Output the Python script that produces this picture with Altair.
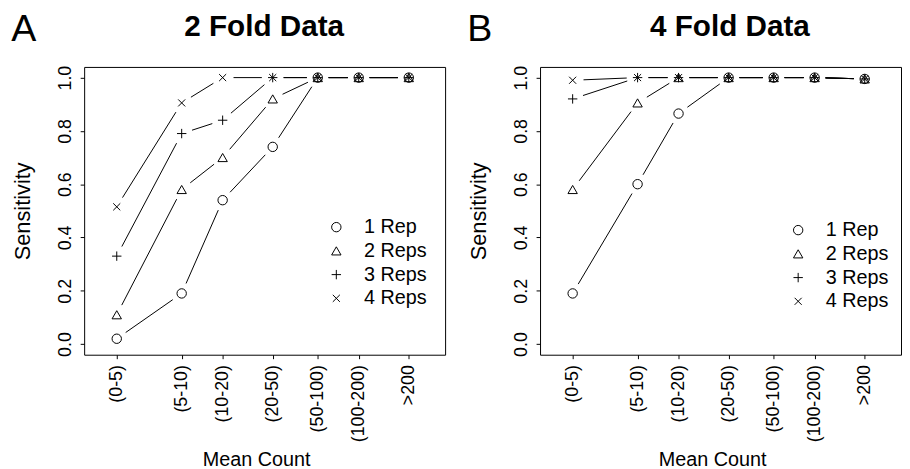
import math
import altair as alt
import pandas as pd

# ---------------- data ----------------
bins = ["(0-5)", "(5-10)", "(10-20)", "(20-50)", "(50-100)", "(100-200)", ">200"]
mean_count = [2.5, 7.5, 15, 35, 75, 150, 350]
reps = ["1 Rep", "2 Reps", "3 Reps", "4 Reps"]

fold2_rep1 = [0.02, 0.19, 0.54, 0.74, 1.0, 1.0, 1.0]
fold2_rep2 = [0.11, 0.58, 0.70, 0.92, 1.0, 1.0, 1.0]
fold2_rep3 = [0.33, 0.79, 0.84, 1.0, 1.0, 1.0, 1.0]
fold2_rep4 = [0.515, 0.905, 1.0, 1.0, 1.0, 1.0, 1.0]

fold4_rep1 = [0.19, 0.60, 0.865, 1.0, 1.0, 1.0, 0.995]
fold4_rep2 = [0.58, 0.905, 1.0, 1.0, 1.0, 1.0, 0.995]
fold4_rep3 = [0.92, 1.0, 1.0, 1.0, 1.0, 1.0, 0.995]
fold4_rep4 = [0.99, 1.0, 1.0, 1.0, 1.0, 1.0, 0.995]

panel_letters = ["A", "B"]
panel_titles = ["2 Fold Data", "4 Fold Data"]
y_ticks = [0.0, 0.2, 0.4, 0.6, 0.8, 1.0]

FONT = "Liberation Sans"
W, H = 365, 291
X_DOM = [1.44, 647]
Y_DOM = [-0.04, 1.04]
GAP = 11  # R type="b" style gap around each point (px)

shape_range = [
    "circle",
    "triangle-up",
    "M-1,0L1,0M0,-1L0,1",
    "M-0.75,-0.75L0.75,0.75M-0.75,0.75L0.75,-0.75",
]


def long_df(series):
    rows = []
    for rep, vals in zip(reps, series):
        for b, c, v in zip(bins, mean_count, vals):
            rows.append({"bin": b, "count": c, "sens": v, "rep": rep})
    return pd.DataFrame(rows)


# line segments between consecutive points, shortened at both ends so that
# they leave a gap around each symbol (as R's type="b" does)
lx0, lx1 = math.log10(X_DOM[0]), math.log10(X_DOM[1])


def to_px(c, v):
    return (W * (math.log10(c) - lx0) / (lx1 - lx0),
            H * (Y_DOM[1] - v) / (Y_DOM[1] - Y_DOM[0]))


def from_px(px, py):
    return (10 ** (lx0 + px / W * (lx1 - lx0)),
            Y_DOM[1] - py / H * (Y_DOM[1] - Y_DOM[0]))


def seg_df(series):
    rows = []
    for rep, vals in zip(reps, series):
        for i in range(len(vals) - 1):
            ax, ay = to_px(mean_count[i], vals[i])
            bx, by = to_px(mean_count[i + 1], vals[i + 1])
            dx, dy = bx - ax, by - ay
            L = math.hypot(dx, dy)
            if L <= 2 * GAP:
                continue
            ux, uy = dx / L, dy / L
            c0, v0 = from_px(ax + GAP * ux, ay + GAP * uy)
            c1, v1 = from_px(bx - GAP * ux, by - GAP * uy)
            rows.append({"c0": c0, "v0": v0, "c1": c1, "v1": v1, "rep": rep})
    return pd.DataFrame(rows)


label_expr = " : ".join(
    f"abs(datum.value - {c}) < 0.001 ? '{b}'" for b, c in zip(bins, mean_count)
) + " : ''"


def panel(series, letter, title, title_x, leg_x, leg_y):
    df = long_df(series)
    sdf = seg_df(series)
    xscale = alt.Scale(type="log", domain=X_DOM, nice=False)
    yscale = alt.Scale(domain=Y_DOM, nice=False, zero=False)
    x_axis = alt.Axis(
        values=mean_count,
        labelExpr=label_expr,
        title="Mean Count",
        labelAngle=270,
        labelAlign="right",
        labelBaseline="middle",
        labelFontSize=18,
        labelPadding=6,
        titleFontSize=20,
        titlePadding=8,
        titleX=174,
        grid=False,
    )
    y_axis = alt.Axis(
        values=y_ticks,
        format=".1f",
        title="Sensitivity",
        labelAngle=270,
        labelAlign="center",
        labelBaseline="bottom",
        labelFontSize=18,
        labelPadding=6,
        titleFontSize=22,
        titlePadding=22,
        grid=False,
    )
    pts = alt.Chart(df).mark_point(
        filled=False, color="black", strokeWidth=1, size=90, opacity=1
    ).encode(
        x=alt.X("count:Q", scale=xscale, axis=x_axis),
        y=alt.Y("sens:Q", scale=yscale, axis=y_axis),
        shape=alt.Shape(
            "rep:N",
            scale=alt.Scale(domain=reps, range=shape_range),
            legend=alt.Legend(
                title=None,
                orient="none",
                legendX=leg_x,
                legendY=leg_y,
                labelFontSize=20,
                labelFont=FONT,
                labelColor="black",
                symbolSize=90,
                symbolStrokeColor="black",
                symbolStrokeWidth=1,
                symbolFillColor="transparent",
                labelOffset=18,
                rowPadding=4,
                padding=0,
            ),
        ),
    )
    segs = alt.Chart(sdf).mark_rule(color="black", strokeWidth=1).encode(
        x=alt.X("c0:Q", scale=xscale, axis=x_axis),
        y=alt.Y("v0:Q", scale=yscale, axis=y_axis),
        x2="c1:Q",
        y2="v1:Q",
    )
    letter_txt = alt.Chart(pd.DataFrame({"t": [letter]})).mark_text(
        font=FONT, fontSize=38, align="center", baseline="alphabetic", color="black"
    ).encode(text="t:N", x=alt.value(-61), y=alt.value(-26))
    title_txt = alt.Chart(pd.DataFrame({"t": [title]})).mark_text(
        font=FONT,
        fontSize=30,
        fontWeight="bold",
        align="center",
        baseline="alphabetic",
        color="black",
    ).encode(text="t:N", x=alt.value(title_x), y=alt.value(-31))
    return alt.layer(pts, segs, letter_txt, title_txt).properties(width=W, height=H)


pa = panel(
    [fold2_rep1, fold2_rep2, fold2_rep3, fold2_rep4],
    panel_letters[0], panel_titles[0], 182, 245, 152,
)
pb = panel(
    [fold4_rep1, fold4_rep2, fold4_rep3, fold4_rep4],
    panel_letters[1], panel_titles[1], 192, 251, 155,
)

chart = (
    alt.hconcat(pa, pb, spacing=20)
    .resolve_scale(shape="independent")
    .resolve_legend(shape="independent")
    .properties(
        padding={"left": 2, "top": 0, "right": 0, "bottom": 0},
        background="white",
    )
    .configure(font=FONT)
    .configure_view(stroke="black", strokeWidth=1)
    .configure_axis(
        domain=False,
        tickColor="black",
        tickSize=4,
        tickWidth=1,
        labelColor="black",
        titleColor="black",
        labelFont=FONT,
        titleFont=FONT,
        titleFontWeight="normal",
    )
)

chart.save("out.html", embed_options={"renderer": "svg", "actions": False})
